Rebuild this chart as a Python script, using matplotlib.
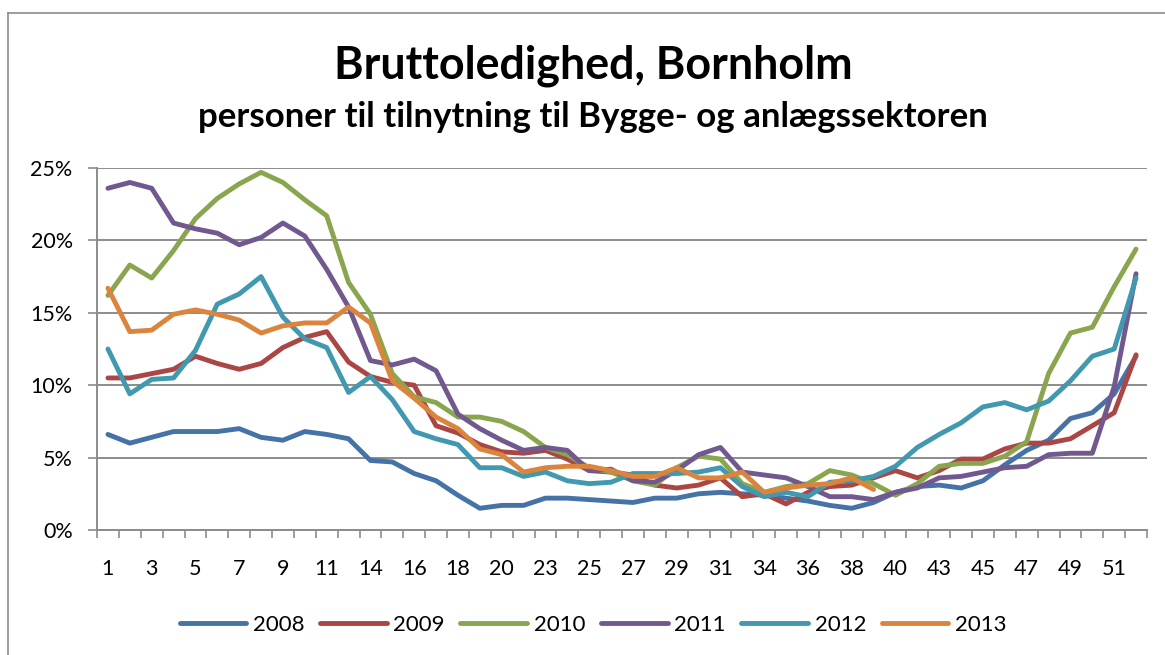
import numpy as np
import matplotlib
matplotlib.use("Agg")
import matplotlib.pyplot as plt
from matplotlib.lines import Line2D
from matplotlib.ticker import FixedLocator, FuncFormatter

plt.rcParams['font.family'] = ['Lato', 'DejaVu Sans']

# ---- data ----
weeks = [1, 2, 3, 4, 5, 6, 7, 8, 9, 10, 11, 13, 14, 15, 16, 17, 18, 19, 20, 22,
         23, 24, 25, 26, 27, 28, 29, 30, 31, 33, 34, 35, 36, 37, 38, 39, 40, 42,
         43, 44, 45, 46, 47, 48, 49, 50, 51, 52]
series_names = ['2008', '2009', '2010', '2011', '2012', '2013']
y2008 = [6.6, 6.0, 6.4, 6.8, 6.8, 6.8, 7.0, 6.4, 6.2, 6.8, 6.6, 6.3,
         4.8, 4.7, 3.9, 3.4, 2.4, 1.5, 1.7, 1.7,
         2.2, 2.2, 2.1, 2.0, 1.9, 2.2, 2.2, 2.5,
         2.6, 2.5, 2.4, 2.2, 2.0, 1.7, 1.5, 1.9,
         2.6, 3.0, 3.1, 2.9, 3.4, 4.5, 5.5, 6.2,
         7.7, 8.1, 9.4, 12.0]
y2009 = [10.5, 10.5, 10.8, 11.1, 12.0, 11.5, 11.1, 11.5, 12.6, 13.3, 13.7, 11.6,
         10.6, 10.2, 10.0, 7.2, 6.7, 5.9, 5.4, 5.3,
         5.5, 4.9, 4.1, 4.0, 3.8, 3.1, 2.9, 3.1,
         3.6, 2.3, 2.5, 1.8, 2.6, 3.0, 3.1, 3.6,
         4.1, 3.6, 4.1, 4.9, 4.9, 5.6, 6.0, 6.0,
         6.3, 7.2, 8.1, 12.1]
y2010 = [16.2, 18.3, 17.4, 19.3, 21.5, 22.9, 23.9, 24.7, 24.0, 22.8, 21.7, 17.1,
         14.9, 10.8, 9.2, 8.8, 7.8, 7.8, 7.5, 6.8,
         5.7, 5.2, 4.3, 4.0, 3.4, 3.1, 4.3, 5.1,
         4.9, 3.2, 2.6, 3.0, 3.2, 4.1, 3.8, 3.2,
         2.4, 3.2, 4.4, 4.6, 4.6, 5.1, 6.1, 10.8,
         13.6, 14.0, 16.8, 19.4]
y2011 = [23.6, 24.0, 23.6, 21.2, 20.8, 20.5, 19.7, 20.2, 21.2, 20.3, 18.0, 15.4,
         11.7, 11.4, 11.8, 11.0, 8.0, 7.0, 6.2, 5.5,
         5.7, 5.5, 4.1, 4.2, 3.4, 3.3, 4.1, 5.2,
         5.7, 4.0, 3.8, 3.6, 3.0, 2.3, 2.3, 2.1,
         2.6, 2.9, 3.6, 3.7, 4.0, 4.3, 4.4, 5.2,
         5.3, 5.3, 9.9, 17.7]
y2012 = [12.5, 9.4, 10.4, 10.5, 12.4, 15.6, 16.3, 17.5, 14.7, 13.2, 12.6, 9.5,
         10.6, 9.0, 6.8, 6.3, 5.9, 4.3, 4.3, 3.7,
         4.0, 3.4, 3.2, 3.3, 3.9, 3.9, 3.9, 4.0,
         4.3, 3.0, 2.3, 2.6, 2.3, 3.3, 3.4, 3.7,
         4.4, 5.7, 6.6, 7.4, 8.5, 8.8, 8.3, 8.9,
         10.3, 12.0, 12.5, 17.4]
y2013 = [16.7, 13.7, 13.8, 14.9, 15.2, 14.9, 14.5, 13.6, 14.1, 14.3, 14.3, 15.4,
         14.3, 10.3, 9.1, 7.8, 7.0, 5.6, 5.2, 4.0,
         4.3, 4.4, 4.4, 4.1, 3.7, 3.7, 4.3, 3.6,
         3.6, 4.0, 2.6, 2.9, 3.1, 3.2, 3.6, 2.8]
y_ticks = [0, 5, 10, 15, 20, 25]

colors = ['#4572A7', '#AA4643', '#89A54E', '#71588F', '#4198AF', '#DB843D']
all_series = [y2008, y2009, y2010, y2011, y2012, y2013]

W, H = 1165, 655
fig = plt.figure(figsize=(W / 100, H / 100), dpi=100)
fig.patch.set_facecolor('white')

ax = fig.add_axes([97 / W, 1 - 530 / H, 1050 / W, 362 / H])
n = len(weeks)
x = np.arange(n)
for name, ys, c in zip(series_names, all_series, colors):
    ax.plot(x[:len(ys)], ys, color=c, lw=3.5, label=name,
            solid_capstyle='round', solid_joinstyle='round', zorder=3)

ax.set_xlim(-0.5, n - 0.5)
ax.set_ylim(0, 25)
grid_c = '#8C8C8C'
ax.set_yticks(y_ticks)
ax.yaxis.set_major_formatter(FuncFormatter(lambda v, p: f"{int(v)}%"))
ax.grid(axis='y', color=grid_c, lw=1.4, zorder=1)
ax.tick_params(axis='y', length=6.5, width=1.2, color=grid_c, pad=11,
               labelsize=15.5, labelcolor='black')

ax.set_xticks(x[::2])
ax.set_xticklabels([str(w) for w in weeks[::2]])
ax.xaxis.set_minor_locator(FixedLocator(np.arange(-0.5, n, 1.0)))
ax.tick_params(axis='x', which='major', length=0, pad=21, labelsize=15.5,
               labelcolor='black')
ax.tick_params(axis='x', which='minor', length=6, width=1.2, color=grid_c)

for s in ['top', 'right']:
    ax.spines[s].set_visible(False)
for s in ['left', 'bottom']:
    ax.spines[s].set_color(grid_c)
    ax.spines[s].set_linewidth(1.4)

# titles fitted to widths
fig.canvas.draw()
rend = fig.canvas.get_renderer()

def fitted_text(s, cx, cy, target_w, size0):
    t = fig.text(cx / W, 1 - cy / H, s, ha='center', va='center',
                 fontsize=size0, fontweight='bold', color='black')
    w = t.get_window_extent(renderer=rend).width
    t.set_fontsize(size0 * target_w / w)
    return t

fitted_text('Bruttoledighed, Bornholm', 593, 66, 520, 26)
fitted_text('personer til tilnytning til Bygge- og anlægssektoren', 593, 117, 793, 18)

leg = fig.legend(loc='center', bbox_to_anchor=(593 / W, 1 - 625 / H), ncol=6,
                 frameon=False, fontsize=16, handlelength=3.0,
                 handletextpad=0.3, columnspacing=0.7)
for lh in leg.get_lines():
    lh.set_linewidth(3.5)

# chart border (left and top visible)
bc = '#8C8C8C'
fig.add_artist(Line2D([8 / W, 8 / W], [0, 1 - 13 / H], color=bc, lw=1.2))
fig.add_artist(Line2D([8 / W, 1], [1 - 13 / H, 1 - 13 / H], color=bc, lw=1.2))

fig.savefig('out.png', dpi=100, facecolor='white')
